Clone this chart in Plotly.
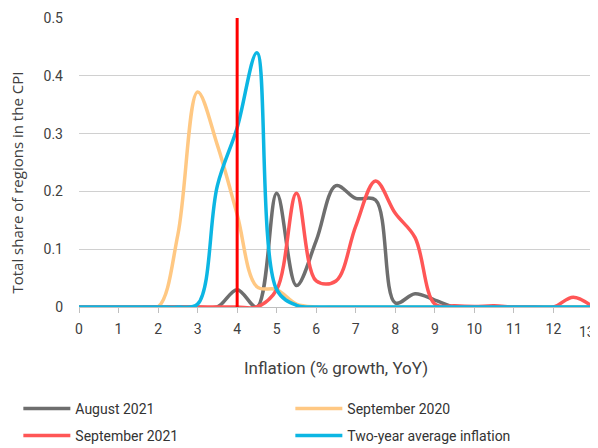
import plotly.graph_objects as go

x_vals = [0, 0.5, 1, 1.5, 2, 2.5, 3, 3.5, 4, 4.5, 5, 5.5, 6, 6.5, 7, 7.5, 8, 8.5, 9, 9.5, 10, 10.5, 11, 11.5, 12, 12.5, 13]

aug_2021 = [0, 0, 0, 0, 0, 0, 0, 0, 0.03, 0, 0.197, 0.037, 0.115, 0.21, 0.188, 0.185, 0.007, 0.023, 0.012, 0, 0, 0, 0, 0, 0, 0, 0]
sep_2020 = [0, 0, 0, 0, 0, 0.125, 0.372, 0.28, 0.16, 0.035, 0.03, 0.005, 0, 0, 0, 0, 0, 0, 0, 0, 0, 0, 0, 0, 0, 0, 0]
sep_2021 = [0, 0, 0, 0, 0, 0, 0, 0, 0, 0, 0.03, 0.197, 0.045, 0.045, 0.14, 0.218, 0.162, 0.12, 0.005, 0.002, 0.001, 0.002, 0, 0, 0, 0.017, 0]
two_year = [0, 0, 0, 0, 0, 0, 0.005, 0.21, 0.31, 0.44, 0.03, 0.003, 0, 0, 0, 0, 0, 0, 0, 0, 0, 0, 0, 0, 0, 0, 0]

x_tick_vals = [0, 1, 2, 3, 4, 5, 6, 7, 8, 9, 10, 11, 12, 13]
x_tick_labels = ["0", "1", "2", "3", "4", "5", "6", "7", "8", "9", "10", "11", "12", "13"]

target_x = [4, 4]
target_y = [0, 0.5]

series = [
    ("August 2021", aug_2021, "#6e6e6e", "legend"),
    ("September 2020", sep_2020, "#ffc883", "legend"),
    ("September 2021", sep_2021, "#ff5656", "legend2"),
    ("Two-year average inflation", two_year, "#0cb6e3", "legend2"),
]

fig = go.Figure()
for name, vals, col, lg in series:
    fig.add_trace(go.Scatter(x=x_vals, y=vals, name=name, mode="lines", legend=lg,
                             line=dict(color=col, width=3.5, shape="spline", smoothing=1)))

fig.add_trace(go.Scatter(x=target_x, y=target_y, mode="lines", showlegend=False,
                         line=dict(color="#ff0000", width=3), hoverinfo="skip"))

legend_common = dict(orientation="h", x=-0.118, xanchor="left", yanchor="top",
                     entrywidth=210, entrywidthmode="pixels", itemwidth=47,
                     font=dict(size=14, color="#333333"), bgcolor="rgba(0,0,0,0)")

# last tick label is nudged inside the canvas (as in the original), the rest are regular ticks
tick_text = x_tick_labels[:-1] + [""]

fig.update_layout(
    width=590, height=440,
    margin=dict(l=71, r=5, t=10, b=141, autoexpand=False),
    paper_bgcolor="white", plot_bgcolor="white",
    font=dict(family="Roboto", size=14, color="#404040"),
    xaxis=dict(range=[0, 13], tickmode="array", tickvals=x_tick_vals, ticktext=tick_text,
               showgrid=False, zeroline=False,
               showline=True, linecolor="#bfbfbf", linewidth=1,
               ticks="outside", ticklen=5, tickcolor="#bfbfbf",
               ticklabelstandoff=4, tickfont=dict(size=14),
               title=dict(text="Inflation (% growth, YoY)", standoff=26)),
    yaxis=dict(range=[0, 0.5], dtick=0.1, showgrid=True, gridcolor="#d0d0d0", gridwidth=1,
               zeroline=False, showline=False, ticks="", ticklabelstandoff=15,
               tickfont=dict(size=14)),
    legend=dict(legend_common, y=-0.297),
    legend2=dict(legend_common, y=-0.391),
    showlegend=True,
    annotations=[
        dict(text="Total share of regions in the CPI", textangle=-90,
             xref="paper", yref="paper", x=-0.121, y=0.43,
             xanchor="center", yanchor="middle", showarrow=False,
             font=dict(family="Open Sans", size=15, color="#404040")),
        dict(text=x_tick_labels[-1], xref="x", yref="paper", x=x_tick_vals[-1], y=0,
             xanchor="right", yanchor="top", xshift=4, yshift=-15, showarrow=False,
             font=dict(family="Roboto", size=14, color="#404040")),
    ],
)

fig.write_html("out.html")
